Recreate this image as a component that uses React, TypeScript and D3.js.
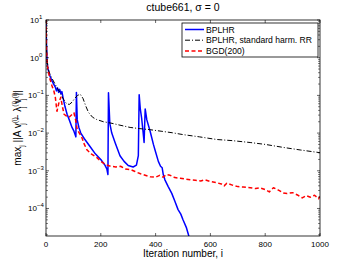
import React from 'react';
import * as d3 from 'd3';

// iteration numbers and log10 of the residual
const bplhrIter = [0, 2, 4, 6, 10, 15, 21, 28, 34, 38, 42, 46, 50, 54, 58, 62, 69, 77, 85, 95, 102, 109, 111, 114, 120, 127, 140, 160, 180, 200, 215, 222, 226, 228, 233, 240, 252, 270, 285, 300, 318, 330, 337, 340, 344, 349, 354, 358, 362, 368, 380, 392, 400, 410, 418, 424, 428, 434, 446, 459, 470, 482, 492, 500, 512, 522];
const bplhrExp = [1, 0.3, -0.1, -0.25, -0.38, -0.5, -0.6, -0.7, -0.78, -0.88, -0.8, -0.92, -0.84, -0.95, -0.9, -1.05, -1.29, -1.5, -1.65, -1.85, -1.95, -2.1, -0.92, -1.65, -1.85, -2.0, -2.15, -2.35, -2.55, -2.7, -2.85, -2.95, -3.1, -0.93, -1.75, -2.0, -2.25, -2.6, -2.75, -2.86, -2.9, -2.85, -2.6, -0.98, -1.35, -1.6, -1.95, -2.25, -1.36, -1.65, -1.95, -2.3, -2.5, -2.75, -2.88, -2.92, -3.1, -3.24, -3.42, -3.6, -3.8, -4.03, -4.15, -4.3, -4.5, -4.75];

const harmIter = [0, 2, 4, 8, 15, 22, 33, 45, 55, 65, 75, 85, 95, 105, 115, 125, 135, 145, 155, 170, 185, 210, 234, 270, 307, 340, 380, 420, 460, 500, 560, 623, 680, 745, 800, 866, 930, 1000];
const harmExp = [1, 0.3, -0.05, -0.3, -0.45, -0.55, -0.7, -0.85, -0.98, -1.12, -1.22, -1.24, -1.18, -1.08, -1.0, -0.97, -1.08, -1.28, -1.45, -1.58, -1.64, -1.7, -1.73, -1.79, -1.85, -1.88, -1.91, -1.95, -1.99, -2.04, -2.1, -2.17, -2.2, -2.25, -2.3, -2.38, -2.45, -2.52];

const bgdIter = [0, 2, 4, 8, 15, 22, 29, 34, 40, 47, 54, 60, 66, 75, 84, 93, 102, 108, 114, 120, 130, 140, 150, 165, 186, 200, 218, 236, 255, 272, 290, 309, 325, 345, 362, 380, 400, 415, 427, 440, 453, 470, 490, 510, 526, 545, 565, 580, 598, 620, 640, 650, 660, 680, 700, 720, 745, 765, 780, 800, 815, 830, 850, 866, 880, 900, 920, 935, 950, 965, 980, 995, 1000];
const bgdExp = [1, 0.2, -0.15, -0.35, -0.58, -0.75, -0.89, -1.05, -1.42, -1.2, -1.05, -1.3, -1.5, -1.55, -1.58, -1.52, -1.46, -1.65, -1.91, -1.98, -2.1, -2.3, -2.45, -2.55, -2.65, -2.75, -2.84, -2.88, -2.9, -2.88, -2.95, -2.97, -3.02, -3.08, -3.12, -3.16, -3.17, -3.12, -3.17, -3.1, -3.12, -3.18, -3.2, -3.22, -3.24, -3.25, -3.27, -3.24, -3.28, -3.31, -3.35, -3.4, -3.33, -3.38, -3.42, -3.43, -3.45, -3.47, -3.45, -3.5, -3.56, -3.45, -3.52, -3.59, -3.6, -3.58, -3.65, -3.72, -3.66, -3.7, -3.65, -3.74, -3.68];

const xTicks = [0, 200, 400, 600, 800, 1000];
const yTickExps = [1, 0, -1, -2, -3, -4];
const legendLabels = ['BPLHR', 'BPLHR, standard harm. RR', 'BGD(200)'];

const font = '"Liberation Sans", Arial, Helvetica, sans-serif';

export default function App() {
  const W = 354, H = 266;
  const margin = { left: 46, right: 34, top: 20, bottom: 30 };
  const x0 = margin.left, x1 = W - margin.right;
  const y0 = margin.top, y1 = H - margin.bottom;

  const x = d3.scaleLinear().domain([0, 1000]).range([x0, x1]);
  const y = d3.scaleLog().domain([Math.pow(10, -4.73), 10]).range([y1, y0]);

  const series = [
    { iter: bplhrIter, exp: bplhrExp, color: '#0000ff', width: 1.5, dash: null },
    { iter: harmIter, exp: harmExp, color: '#000000', width: 1, dash: '5 2 1 2' },
    { iter: bgdIter, exp: bgdExp, color: '#ff0000', width: 1.5, dash: '4 2.5' },
  ];

  const line = d3.line<[number, number]>()
    .x(d => x(d[0]))
    .y(d => y(Math.pow(10, d[1])));

  const minorTicks: number[] = [];
  for (let e = -5; e < 1; e++) {
    for (let k = 2; k < 10; k++) {
      const v = k * Math.pow(10, e);
      if (v >= y.domain()[0] && v <= 10) minorTicks.push(v);
    }
  }

  const lg = { x: 182, y: 23, w: 136, h: 34 };
  const sub = 7;

  return (
    <svg width={W} height={H} style={{ position: 'absolute', left: 0, top: 0, background: '#fff' }} fontFamily={font}>
      <defs>
        <clipPath id="plot">
          <rect x={x0} y={y0} width={x1 - x0} height={y1 - y0} />
        </clipPath>
      </defs>
      <rect x={0} y={0} width={W} height={H} fill="#fff" />

      <g clipPath="url(#plot)">
        {series.map((s, i) => (
          <path key={i}
            d={line(s.iter.map((it, j) => [it, s.exp[j]] as [number, number])) || ''}
            fill="none" stroke={s.color} strokeWidth={s.width}
            strokeDasharray={s.dash || undefined} strokeLinejoin="round" />
        ))}
      </g>

      {/* axes box and ticks */}
      <rect x={x0} y={y0} width={x1 - x0} height={y1 - y0} fill="none" stroke="#000" strokeWidth={0.8} />
      {xTicks.map(t => (
        <g key={t}>
          <line x1={x(t)} x2={x(t)} y1={y1} y2={y1 - 3} stroke="#000" strokeWidth={0.6} />
          <line x1={x(t)} x2={x(t)} y1={y0} y2={y0 + 3} stroke="#000" strokeWidth={0.6} />
          <text x={x(t)} y={y1 + 11} fontSize={8} textAnchor="middle">{t}</text>
        </g>
      ))}
      {yTickExps.map(e => {
        const yy = y(Math.pow(10, e));
        return (
          <g key={e}>
            <line x1={x0} x2={x0 + 3} y1={yy} y2={yy} stroke="#000" strokeWidth={0.6} />
            <line x1={x1} x2={x1 - 3} y1={yy} y2={yy} stroke="#000" strokeWidth={0.6} />
            <text x={e < 0 ? 28 : 30} y={yy + 3} fontSize={8}>
              10<tspan dy={-4} fontSize={6}>{e < 0 ? '\u2212' + (-e) : e}</tspan>
            </text>
          </g>
        );
      })}
      {minorTicks.map((v, i) => (
        <g key={'m' + i}>
          <line x1={x0} x2={x0 + 2} y1={y(v)} y2={y(v)} stroke="#000" strokeWidth={0.5} />
          <line x1={x1} x2={x1 - 2} y1={y(v)} y2={y(v)} stroke="#000" strokeWidth={0.5} />
        </g>
      ))}

      {/* title and labels */}
      <text x={(x0 + x1) / 2} y={11} fontSize={10.5} textAnchor="middle">ctube661, σ = 0</text>
      <text x={(x0 + x1) / 2} y={257} fontSize={10} textAnchor="middle">Iteration number, i</text>
      <text transform={`translate(21,${(y0 + y1) / 2}) rotate(-90)`} fontSize={10} textAnchor="middle">
        max<tspan fontSize={sub} dy={3}>j</tspan>
        <tspan dy={-3}> ||A v</tspan>
        <tspan fontSize={sub} dy={-4.5}>(i)</tspan>
        <tspan fontSize={sub} dx={-7.5} dy={8}>j</tspan>
        <tspan dy={-3.5}>  − λ</tspan>
        <tspan fontSize={sub} dy={-4.5}>(i)</tspan>
        <tspan fontSize={sub} dx={-7.5} dy={8}>j</tspan>
        <tspan dy={-3.5}>  v</tspan>
        <tspan fontSize={sub} dy={-4.5}>(i)</tspan>
        <tspan fontSize={sub} dx={-7.5} dy={8}>j</tspan>
        <tspan dy={-3.5}>  ||</tspan>
      </text>

      {/* legend */}
      <rect x={lg.x} y={lg.y} width={lg.w} height={lg.h} fill="#fff" stroke="#000" strokeWidth={0.8} />
      {legendLabels.map((lab, i) => {
        const yy = lg.y + 6.5 + i * 10.7;
        const s = series[i];
        return (
          <g key={lab}>
            <line x1={lg.x + 3} x2={lg.x + 22} y1={yy} y2={yy} stroke={s.color}
              strokeWidth={s.width} strokeDasharray={s.dash || undefined} />
            <text x={lg.x + 24} y={yy + 3.2} fontSize={8.6}>{lab}</text>
          </g>
        );
      })}
    </svg>
  );
}
